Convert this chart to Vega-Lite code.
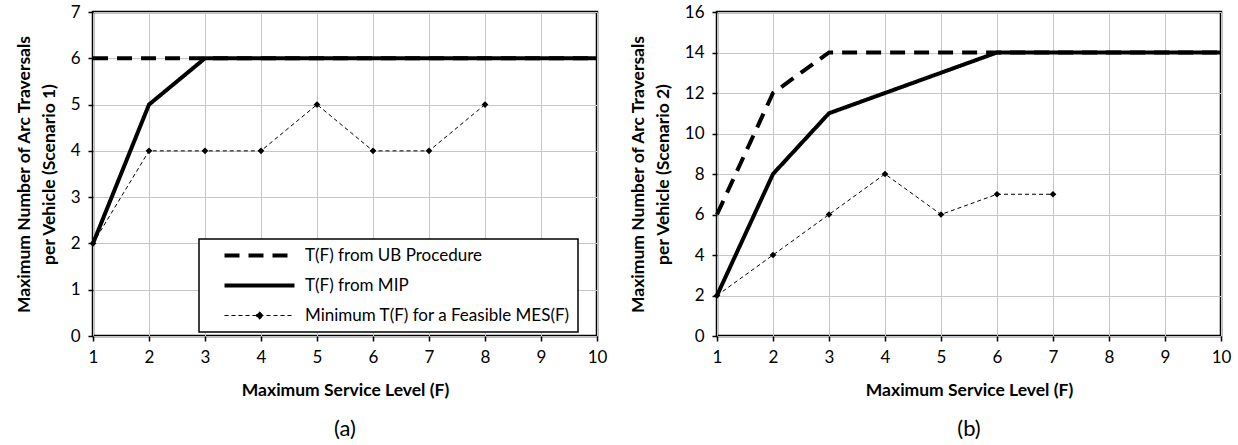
{
  "$schema": "https://vega.github.io/schema/vega-lite/v6.json",
  "background": "white",
  "padding": {"left": 13, "top": 1, "right": 10, "bottom": 0},
  "config": {
    "font": "Lato",
    "view": {"stroke": "black", "strokeWidth": 2.5},
    "axis": {
      "domain": false,
      "gridColor": "#c6c6c6",
      "gridWidth": 1,
      "labelFont": "Lato",
      "labelFontSize": 17,
      "labelColor": "black",
      "labelFlush": false,
      "tickColor": "black",
      "tickSize": 5,
      "tickWidth": 1.5,
      "titleFont": "Lato",
      "titleFontSize": 17.5,
      "titleFontWeight": "bold",
      "titleColor": "black"
    },
    "legend": {
      "orient": "none",
      "title": null,
      "fillColor": "white",
      "strokeColor": "black",
      "strokeWidth": 1.5,
      "padding": 8,
      "rowPadding": 12,
      "symbolSize": 100,
      "symbolOffset": 44,
      "labelOffset": 37,
      "labelFont": "Lato",
      "labelFontSize": 17,
      "labelColor": "black",
      "labelLimit": 400,
      "symbolStrokeColor": "black"
    },
    "title": {"font": "Lato", "fontSize": 22, "fontWeight": "normal", "color": "black"},
    "concat": {"spacing": 19}
  },
  "datasets": {
    "scenario1": [
      {"F": 1, "T": 6, "series": "T(F) from UB Procedure"},
      {"F": 2, "T": 6, "series": "T(F) from UB Procedure"},
      {"F": 3, "T": 6, "series": "T(F) from UB Procedure"},
      {"F": 4, "T": 6, "series": "T(F) from UB Procedure"},
      {"F": 5, "T": 6, "series": "T(F) from UB Procedure"},
      {"F": 6, "T": 6, "series": "T(F) from UB Procedure"},
      {"F": 7, "T": 6, "series": "T(F) from UB Procedure"},
      {"F": 8, "T": 6, "series": "T(F) from UB Procedure"},
      {"F": 9, "T": 6, "series": "T(F) from UB Procedure"},
      {"F": 10, "T": 6, "series": "T(F) from UB Procedure"},
      {"F": 1, "T": 2, "series": "T(F) from MIP"},
      {"F": 2, "T": 5, "series": "T(F) from MIP"},
      {"F": 3, "T": 6, "series": "T(F) from MIP"},
      {"F": 4, "T": 6, "series": "T(F) from MIP"},
      {"F": 5, "T": 6, "series": "T(F) from MIP"},
      {"F": 6, "T": 6, "series": "T(F) from MIP"},
      {"F": 7, "T": 6, "series": "T(F) from MIP"},
      {"F": 8, "T": 6, "series": "T(F) from MIP"},
      {"F": 9, "T": 6, "series": "T(F) from MIP"},
      {"F": 10, "T": 6, "series": "T(F) from MIP"},
      {"F": 1, "T": 2, "series": "Minimum T(F) for a Feasible MES(F)"},
      {"F": 2, "T": 4, "series": "Minimum T(F) for a Feasible MES(F)"},
      {"F": 3, "T": 4, "series": "Minimum T(F) for a Feasible MES(F)"},
      {"F": 4, "T": 4, "series": "Minimum T(F) for a Feasible MES(F)"},
      {"F": 5, "T": 5, "series": "Minimum T(F) for a Feasible MES(F)"},
      {"F": 6, "T": 4, "series": "Minimum T(F) for a Feasible MES(F)"},
      {"F": 7, "T": 4, "series": "Minimum T(F) for a Feasible MES(F)"},
      {"F": 8, "T": 5, "series": "Minimum T(F) for a Feasible MES(F)"}
    ],
    "scenario2": [
      {"F": 1, "T": 6, "series": "T(F) from UB Procedure"},
      {"F": 2, "T": 12, "series": "T(F) from UB Procedure"},
      {"F": 3, "T": 14, "series": "T(F) from UB Procedure"},
      {"F": 4, "T": 14, "series": "T(F) from UB Procedure"},
      {"F": 5, "T": 14, "series": "T(F) from UB Procedure"},
      {"F": 6, "T": 14, "series": "T(F) from UB Procedure"},
      {"F": 7, "T": 14, "series": "T(F) from UB Procedure"},
      {"F": 8, "T": 14, "series": "T(F) from UB Procedure"},
      {"F": 9, "T": 14, "series": "T(F) from UB Procedure"},
      {"F": 10, "T": 14, "series": "T(F) from UB Procedure"},
      {"F": 1, "T": 2, "series": "T(F) from MIP"},
      {"F": 2, "T": 8, "series": "T(F) from MIP"},
      {"F": 3, "T": 11, "series": "T(F) from MIP"},
      {"F": 4, "T": 12, "series": "T(F) from MIP"},
      {"F": 5, "T": 13, "series": "T(F) from MIP"},
      {"F": 6, "T": 14, "series": "T(F) from MIP"},
      {"F": 7, "T": 14, "series": "T(F) from MIP"},
      {"F": 8, "T": 14, "series": "T(F) from MIP"},
      {"F": 9, "T": 14, "series": "T(F) from MIP"},
      {"F": 10, "T": 14, "series": "T(F) from MIP"},
      {"F": 1, "T": 2, "series": "Minimum T(F) for a Feasible MES(F)"},
      {"F": 2, "T": 4, "series": "Minimum T(F) for a Feasible MES(F)"},
      {"F": 3, "T": 6, "series": "Minimum T(F) for a Feasible MES(F)"},
      {"F": 4, "T": 8, "series": "Minimum T(F) for a Feasible MES(F)"},
      {"F": 5, "T": 6, "series": "Minimum T(F) for a Feasible MES(F)"},
      {"F": 6, "T": 7, "series": "Minimum T(F) for a Feasible MES(F)"},
      {"F": 7, "T": 7, "series": "Minimum T(F) for a Feasible MES(F)"}
    ]
  },
  "hconcat": [
    {
      "width": 504,
      "height": 324,
      "title": {"text": "(a)", "orient": "bottom", "offset": 20},
      "data": {"name": "scenario1"},
      "layer": [
        {
          "mark": {"type": "line", "color": "black"},
          "encoding": {
            "x": {
              "field": "F", "type": "quantitative",
              "scale": {"domain": [1, 10], "nice": false},
              "axis": {"values": [1, 2, 3, 4, 5, 6, 7, 8, 9, 10], "format": "d", "title": "Maximum Service Level (F)", "labelPadding": 8, "titlePadding": 16}
            },
            "y": {
              "field": "T", "type": "quantitative",
              "scale": {"domain": [0, 7], "nice": false},
              "axis": {"values": [0, 1, 2, 3, 4, 5, 6, 7], "format": "d", "title": ["Maximum Number of Arc Traversals", "per Vehicle (Scenario 1)"], "titleLineHeight": 25, "labelPadding": 8, "titlePadding": 12}
            },
            "strokeDash": {
              "field": "series", "type": "nominal",
              "scale": {"domain": ["T(F) from UB Procedure", "T(F) from MIP", "Minimum T(F) for a Feasible MES(F)"], "range": [[15, 9], [1, 0], [4, 3]]},
              "legend": {
                "legendX": 106, "legendY": 227,
                "encode": {"symbols": {"update": {
                  "shape": {"signal": "datum.value === 'Minimum T(F) for a Feasible MES(F)' ? 'M-7,0H7M0,-0.75L0.75,0L0,0.75L-0.75,0Z' : 'M-7,0H7'"},
                  "fill": {"signal": "datum.value === 'Minimum T(F) for a Feasible MES(F)' ? 'black' : 'transparent'"},
                  "stroke": {"value": "black"},
                  "strokeWidth": {"signal": "datum.value === 'Minimum T(F) for a Feasible MES(F)' ? 1 : 4"}
                }}}
              }
            },
            "strokeWidth": {"condition": {"test": "datum.series === 'Minimum T(F) for a Feasible MES(F)'", "value": 1}, "value": 4}
          }
        },
        {
          "transform": [{"filter": "datum.series === 'Minimum T(F) for a Feasible MES(F)'"}],
          "mark": {"type": "point", "shape": "diamond", "filled": true, "color": "black", "opacity": 1, "size": 45},
          "encoding": {
            "x": {"field": "F", "type": "quantitative"},
            "y": {"field": "T", "type": "quantitative"}
          }
        }
      ]
    },
    {
      "width": 504,
      "height": 324,
      "title": {"text": "(b)", "orient": "bottom", "offset": 20},
      "data": {"name": "scenario2"},
      "layer": [
        {
          "mark": {"type": "line", "color": "black"},
          "encoding": {
            "x": {
              "field": "F", "type": "quantitative",
              "scale": {"domain": [1, 10], "nice": false},
              "axis": {"values": [1, 2, 3, 4, 5, 6, 7, 8, 9, 10], "format": "d", "title": "Maximum Service Level (F)", "labelPadding": 8, "titlePadding": 16}
            },
            "y": {
              "field": "T", "type": "quantitative",
              "scale": {"domain": [0, 16], "nice": false},
              "axis": {"values": [0, 2, 4, 6, 8, 10, 12, 14, 16], "format": "d", "title": ["Maximum Number of Arc Traversals", "per Vehicle (Scenario 2)"], "titleLineHeight": 25, "labelPadding": 8, "titlePadding": 12}
            },
            "strokeDash": {
              "field": "series", "type": "nominal",
              "scale": {"domain": ["T(F) from UB Procedure", "T(F) from MIP", "Minimum T(F) for a Feasible MES(F)"], "range": [[15, 9], [1, 0], [4, 3]]},
              "legend": {
                "legendX": 102, "legendY": 230,
                "encode": {"symbols": {"update": {
                  "shape": {"signal": "datum.value === 'Minimum T(F) for a Feasible MES(F)' ? 'M-7,0H7M0,-0.75L0.75,0L0,0.75L-0.75,0Z' : 'M-7,0H7'"},
                  "fill": {"signal": "datum.value === 'Minimum T(F) for a Feasible MES(F)' ? 'black' : 'transparent'"},
                  "stroke": {"value": "black"},
                  "strokeWidth": {"signal": "datum.value === 'Minimum T(F) for a Feasible MES(F)' ? 1 : 4"}
                }}}
              }
            },
            "strokeWidth": {"condition": {"test": "datum.series === 'Minimum T(F) for a Feasible MES(F)'", "value": 1}, "value": 4}
          }
        },
        {
          "transform": [{"filter": "datum.series === 'Minimum T(F) for a Feasible MES(F)'"}],
          "mark": {"type": "point", "shape": "diamond", "filled": true, "color": "black", "opacity": 1, "size": 45},
          "encoding": {
            "x": {"field": "F", "type": "quantitative"},
            "y": {"field": "T", "type": "quantitative"}
          }
        }
      ]
    }
  ]
}
